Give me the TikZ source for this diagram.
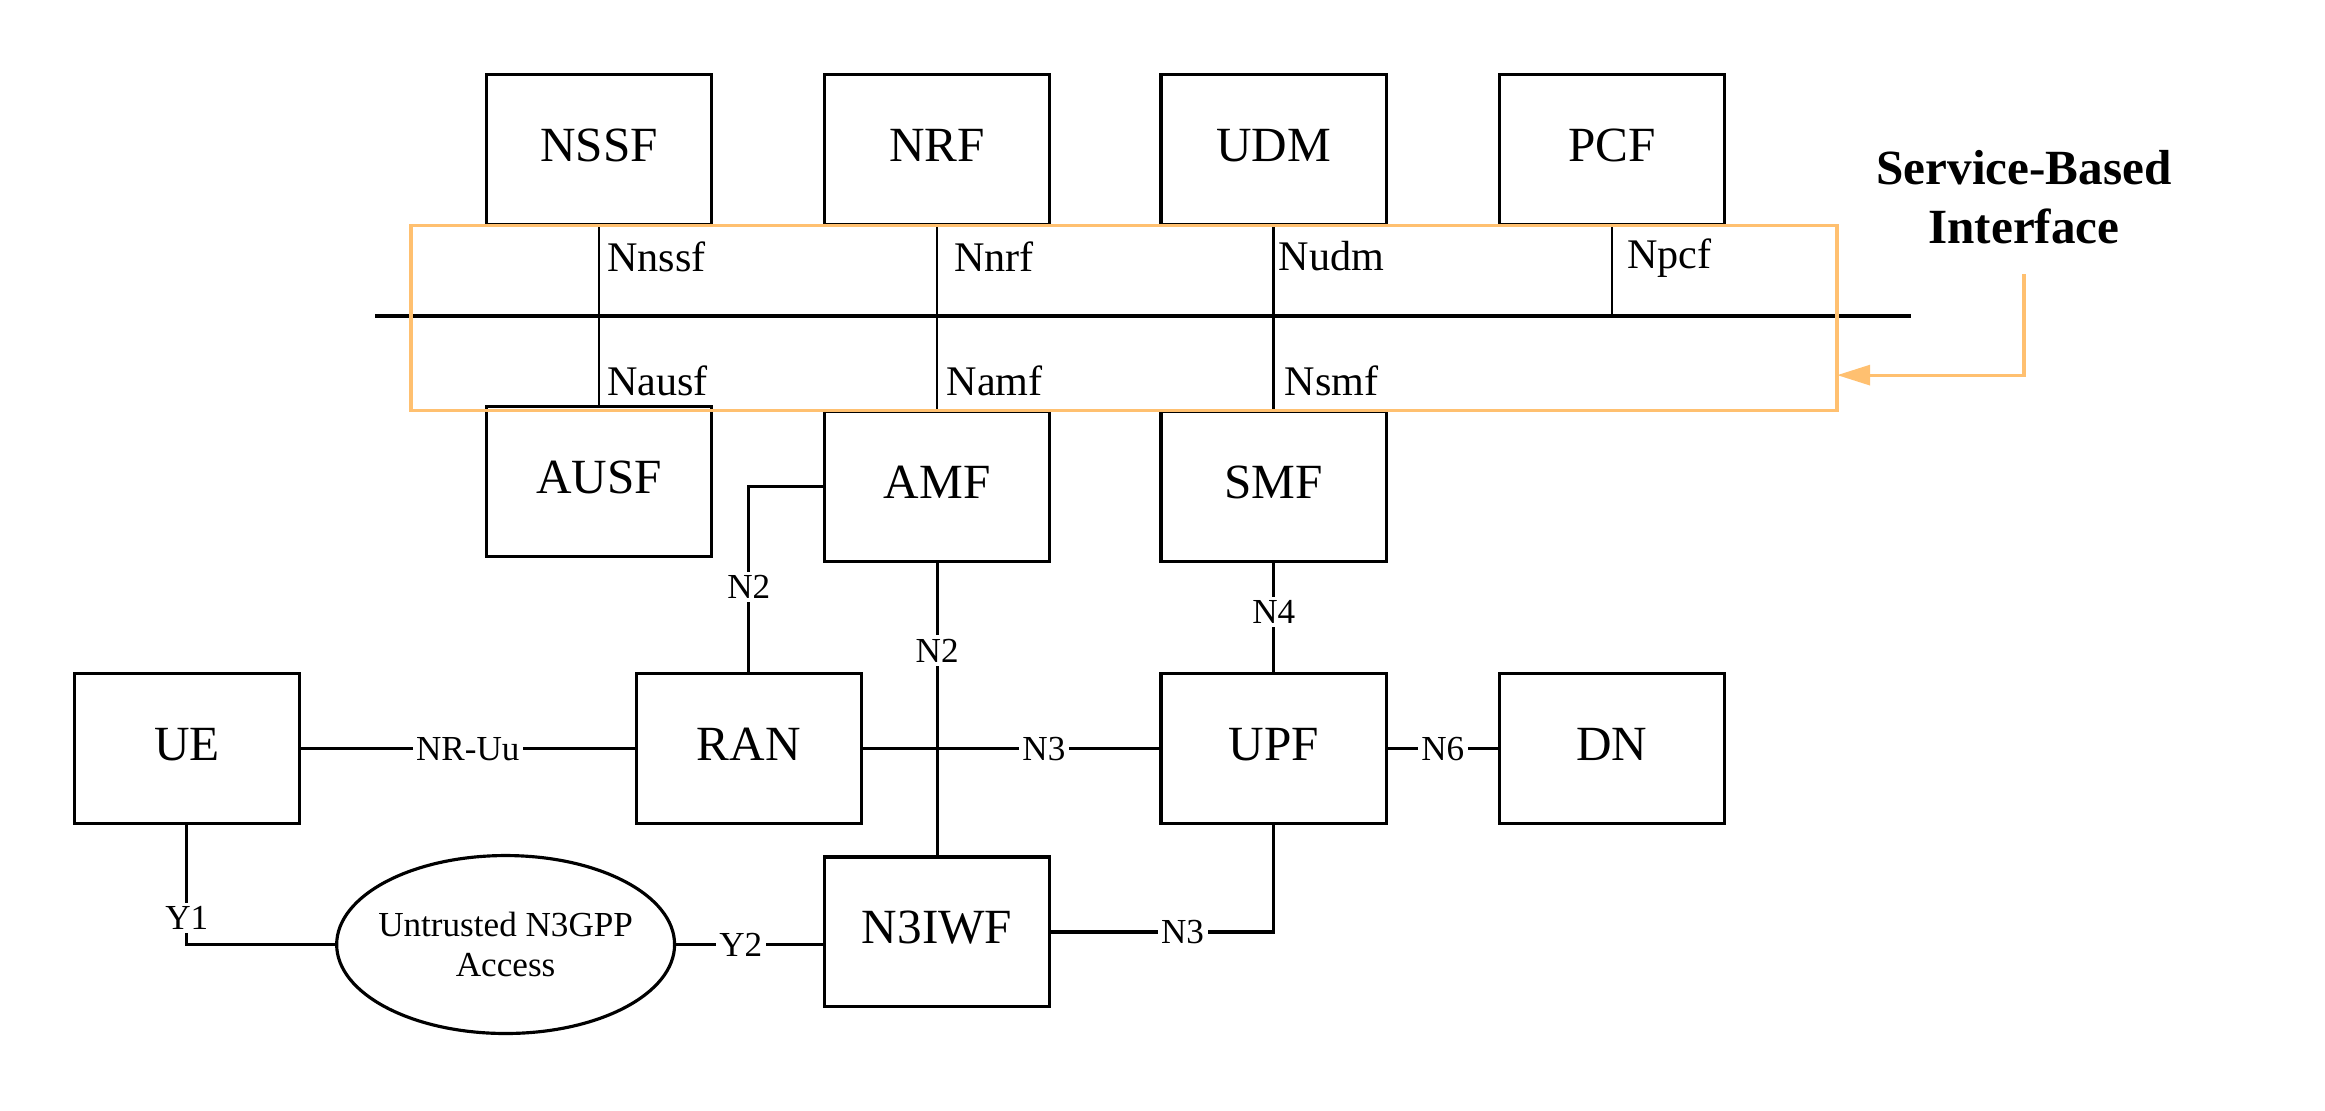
\documentclass[tikz,border=0pt]{standalone}
\usepackage{fontspec}
\setmainfont{Liberation Serif}
\usetikzlibrary{arrows.meta,shapes.geometric}
\definecolor{sbicol}{RGB}{255,192,112}
\begin{document}
\begin{tikzpicture}[x=0.014828cm,y=-0.014828cm,
  nf/.style={draw,line width=0.9pt,minimum width=2.254cm,minimum height=1.50cm,inner sep=0pt,text depth=0.25em,font=\fontsize{14}{16}\selectfont},
  lbl/.style={fill=white,inner sep=1pt,font=\fontsize{10}{12}\selectfont},
  ifl/.style={anchor=west,inner sep=0pt,font=\fontsize{12}{14}\selectfont},
  ln/.style={line width=0.9pt},
  thin ln/.style={line width=0.7pt}]
\useasboundingbox (0,0) rectangle (1568,749);
% top network functions
\node[nf] (nssf) at (404,101) {NSSF};
\node[nf] (nrf)  at (632,101) {NRF};
\node[nf] (udm)  at (859,101) {UDM};
\node[nf] (pcf)  at (1087,101) {PCF};
% lower network functions
\node[nf] (ausf) at (404,325) {AUSF};
\node[nf] (amf)  at (632,328) {AMF};
\node[nf] (smf)  at (859,328) {SMF};
\node[nf] (ue)   at (126,505) {UE};
\node[nf] (ran)  at (505,505) {RAN};
\node[nf] (upf)  at (859,505) {UPF};
\node[nf] (dn)   at (1087,505) {DN};
\node[nf] (n3iwf) at (632,628.5) {N3IWF};
\node[draw,line width=0.9pt,ellipse,minimum width=3.38cm,minimum height=1.78cm,inner sep=0pt,
  label={[align=center,font=\fontsize{10}{11.5}\selectfont]center:Untrusted N3GPP\\Access}] (ell) at (341,637) {};
% bus
\coordinate (busL) at (253,213);
\coordinate (busR) at (1289,213);
\draw[line width=1.3pt] (busL) -- (busR);
\draw[thin ln] (nssf.south) -- (nssf.south |- busL);
\draw[thin ln] (nrf.south) -- (nrf.south |- busL);
\draw[thin ln] (udm.south) -- (udm.south |- busL);
\draw[thin ln] (pcf.south) -- (pcf.south |- busL);
\draw[thin ln] (ausf.north) -- (ausf.north |- busL);
\draw[thin ln] (amf.north) -- (amf.north |- busL);
\draw[thin ln] (smf.north) -- (smf.north |- busL);
% interface labels
\node[ifl] (lnssf) at (409,173) {Nnssf};
\node[ifl] (lnrf) at (643,173) {Nnrf};
\node[ifl] (lnudm) at (862,173) {Nudm};
\node[ifl] (lnpcf) at (1097,174) {Npcf};
\node[ifl] (lnausf) at (409,257) {Nausf};
\node[ifl] (lnamf) at (638,257) {Namf};
\node[ifl] (lnsmf) at (866,257) {Nsmf};
% SBI frame
\node[draw=sbicol,line width=1pt,minimum width=14.265cm,minimum height=1.853cm,inner sep=0pt] (sbirect) at (758,214.5) {};
\node[align=center,font=\bfseries\fontsize{14}{17}\selectfont] (sbi) at (1365,133) {Service-Based\\Interface};
\coordinate (sbiA) at (1365,185);
\coordinate (sbiB) at (1239,253);
\draw[sbicol,line width=0.9pt,-{Triangle[length=0.33cm,width=0.2cm]}] (sbiA) |- (sbiB);
% reference points
\draw[ln] (amf.west) -| node[lbl,pos=0.77] {N2} (ran.north);
\draw[ln] (amf.south) -- node[lbl,pos=0.3] {N2} (n3iwf.north);
\draw[ln] (smf.south) -- node[lbl,pos=0.45] {N4} (upf.north);
\draw[ln] (ue.east) -- node[lbl] {NR-Uu} (ran.west);
\draw[ln] (ran.east) -- node[lbl,pos=0.61] {N3} (upf.west);
\draw[ln] (upf.east) -- node[lbl] {N6} (dn.west);
\draw[ln] (ue.south) |- node[lbl,pos=0.39] {Y1} (ell.west);
\draw[ln] (ell.east) -- node[lbl,pos=0.44] {Y2} (ell.east -| n3iwf.west);
\draw[ln] (n3iwf.east) -| node[lbl,pos=0.295] {N3} (upf.south);
\end{tikzpicture}
\end{document}
